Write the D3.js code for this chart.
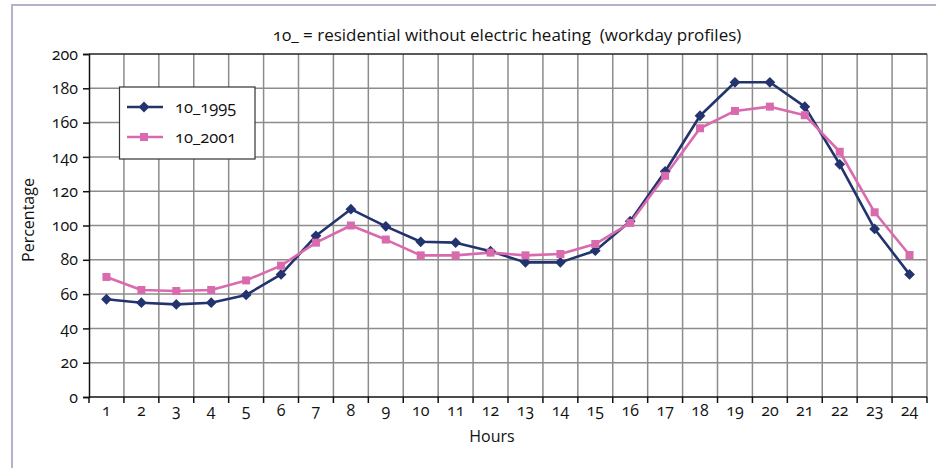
<!DOCTYPE html>
<html>
<head>
<meta charset="utf-8">
<script src="https://cdn.jsdelivr.net/npm/d3@7"></script>
<style>
  html, body { margin: 0; padding: 0; background: #fff; }
  svg { display: block; font-family: "Open Sans", "Noto Sans", sans-serif; }
  .num { font-variant-numeric: oldstyle-nums; }
</style>
</head>
<body>
<svg id="chart" width="936" height="468"></svg>
<script>
const hours = ["1","2","3","4","5","6","7","8","9","10","11","12","13","14","15","16","17","18","19","20","21","22","23","24"];
const series1995 = [57, 55, 54, 55, 59.5, 71.5, 94, 109.5, 99.5, 90.5, 90, 85, 78.5, 78.5, 85.3, 102.5, 131.5, 164, 183.5, 183.5, 169.3, 135.7, 98, 71.5];
const series2001 = [70, 62.4, 61.8, 62.4, 68, 76.6, 90, 100, 91.8, 82.6, 82.6, 84.2, 82.6, 83.4, 89.2, 101.5, 129, 156.7, 166.8, 169.3, 164.3, 143, 107.7, 82.8];
const yTicks = [0, 20, 40, 60, 80, 100, 120, 140, 160, 180, 200];
const seriesNames = ["10_1995", "10_2001"];
const title = "10_ = residential without electric heating  (workday profiles)";

const colors = ["#23336e", "#d96aae"];
const svg = d3.select("#chart");

// outer frame (top and left edges)
svg.append("path")
  .attr("d", "M12,936 L12,5 L936,5")
  .attr("fill", "none").attr("stroke", "#b3b1cb").attr("stroke-width", 2);

const m = { left: 89, right: 927, top: 54, bottom: 397 };
const x = d3.scaleBand().domain(hours).range([m.left, m.right]).paddingInner(0).paddingOuter(0);
const y = d3.scaleLinear().domain([0, 200]).range([m.bottom, m.top]);

// horizontal gridlines
svg.append("g").selectAll("line").data(yTicks.filter(v => v > 0 && v < 200)).join("line")
  .attr("x1", m.left).attr("x2", m.right)
  .attr("y1", d => y(d)).attr("y2", d => y(d))
  .attr("stroke", "#8c8c8c").attr("stroke-width", 1.5);

// vertical gridlines at band boundaries
const bounds = hours.map(h => x(h)).slice(1).concat([x(hours[hours.length - 1]) + x.bandwidth()]);
svg.append("g").selectAll("line").data(bounds).join("line")
  .attr("x1", d => d).attr("x2", d => d)
  .attr("y1", m.top).attr("y2", m.bottom)
  .attr("stroke", "#8c8c8c").attr("stroke-width", 1.5);

// top border
svg.append("line").attr("x1", m.left).attr("x2", m.right).attr("y1", m.top).attr("y2", m.top)
  .attr("stroke", "#222").attr("stroke-width", 1.5);

// Y axis
const yAxis = d3.axisLeft(y).tickValues(yTicks).tickSize(6).tickPadding(5);
const gy = svg.append("g").attr("transform", `translate(${m.left},0)`).call(yAxis);
gy.select(".domain").attr("stroke", "#111").attr("stroke-width", 1.5);
gy.selectAll(".tick line").attr("stroke", "#111").attr("stroke-width", 1.5);
gy.selectAll(".tick text").attr("font-size", 16).attr("fill", "#111").attr("class", "num")
  .attr("font-family", "'Open Sans', sans-serif");

// X axis (ticks at band boundaries)
const gx = svg.append("g").attr("transform", `translate(0,${m.bottom})`);
gx.append("line").attr("x1", m.left).attr("x2", m.right).attr("y1", 0).attr("y2", 0)
  .attr("stroke", "#111").attr("stroke-width", 1.5);
gx.selectAll("line.tk").data([m.left].concat(bounds)).join("line").attr("class", "tk")
  .attr("x1", d => d).attr("x2", d => d).attr("y1", 0).attr("y2", 6)
  .attr("stroke", "#111").attr("stroke-width", 1.5);
gx.selectAll("text").data(hours).join("text").attr("class", "num")
  .attr("x", d => x(d) + x.bandwidth() / 2).attr("y", 19)
  .attr("text-anchor", "middle").attr("font-size", 16).attr("fill", "#111")
  .text(d => d);

// lines
const line = d3.line().x((d, i) => x(hours[i]) + x.bandwidth() / 2).y(d => y(d));
const allSeries = [series1995, series2001];
allSeries.forEach((s, k) => {
  svg.append("path").datum(s).attr("d", line)
    .attr("fill", "none").attr("stroke", colors[k]).attr("stroke-width", 2.6)
    .attr("stroke-linejoin", "round");
});

const square = d3.symbol().type(d3.symbolSquare).size(64);
const diamond = d3.symbol().type(d3.symbolSquare).size(58);

svg.append("g").selectAll("path").data(series1995).join("path")
  .attr("transform", (d, i) => `translate(${x(hours[i]) + x.bandwidth() / 2},${y(d)}) rotate(45)`)
  .attr("d", diamond)
  .attr("fill", colors[0]);
svg.append("g").selectAll("path").data(series2001).join("path")
  .attr("transform", (d, i) => `translate(${x(hours[i]) + x.bandwidth() / 2},${y(d)})`)
  .attr("d", square)
  .attr("fill", colors[1]);

// legend
const lg = svg.append("g");
lg.append("rect").attr("x", 119.5).attr("y", 87).attr("width", 135.5).attr("height", 72)
  .attr("fill", "#fff").attr("stroke", "#333").attr("stroke-width", 1.2);
const ly = [107, 137];
seriesNames.forEach((n, k) => {
  lg.append("line").attr("x1", 127).attr("x2", 163).attr("y1", ly[k]).attr("y2", ly[k])
    .attr("stroke", colors[k]).attr("stroke-width", 2.6);
  if (k === 0) {
    lg.append("path").attr("transform", `translate(144,${ly[k]}) rotate(45)`)
      .attr("d", diamond).attr("fill", colors[k]);
  } else {
    lg.append("path").attr("transform", `translate(144,${ly[k]})`)
      .attr("d", square).attr("fill", colors[k]);
  }
  lg.append("text").attr("x", 175).attr("y", ly[k] + 6).attr("font-size", 16.5).attr("class", "num")
    .attr("fill", "#111").text(n);
});

// title
svg.append("text").attr("x", 507).attr("y", 41).attr("text-anchor", "middle")
  .attr("font-size", 17).attr("fill", "#111").attr("class", "num")
  .style("white-space", "pre").text(title);

// axis titles
svg.append("text").attr("transform", "translate(34,220) rotate(-90)")
  .attr("text-anchor", "middle").attr("font-size", 16).attr("fill", "#111").text("Percentage");
svg.append("text").attr("x", 492).attr("y", 442).attr("text-anchor", "middle")
  .attr("font-size", 16).attr("fill", "#111").text("Hours");
</script>
</body>
</html>
